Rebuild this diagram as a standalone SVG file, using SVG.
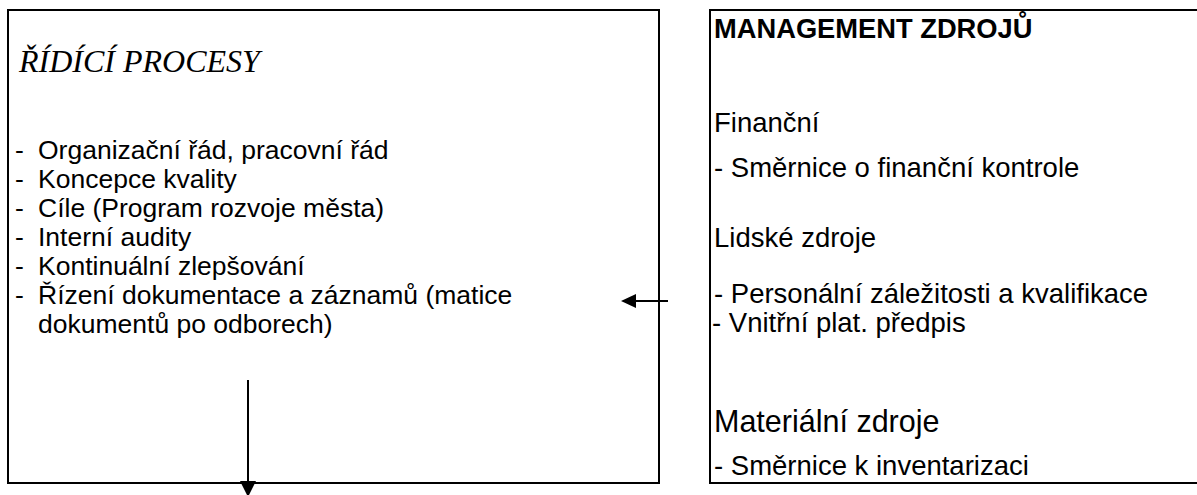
<svg xmlns="http://www.w3.org/2000/svg" width="1197" height="495" viewBox="0 0 1197 495">
<style>
.box{fill:#fff;stroke:#000;stroke-width:2}
.t{font-family:"Liberation Sans",Arial,sans-serif;font-size:26.5px;fill:#000}
.r{font-family:"Liberation Sans",Arial,sans-serif;font-size:27.5px;fill:#000}
.big{font-size:30.5px}
.title{font-family:"Liberation Serif","Times New Roman",serif;font-style:italic;font-size:32px;fill:#000}
.head{font-family:"Liberation Sans",Arial,sans-serif;font-weight:bold;font-size:27.3px;fill:#000}
.c{stroke:#000;stroke-width:2;fill:none}
</style>
<rect width="1197" height="495" fill="#fff"/>
<g id="ridici-procesy">
<rect class="box" x="8" y="10" width="651" height="473"/>
<text class="title" x="19" y="72">ŘÍDÍCÍ PROCESY</text>
<text class="t" x="15" y="159">-</text><text class="t" x="38" y="159">Organizační řád, pracovní řád</text>
<text class="t" x="15" y="188">-</text><text class="t" x="38" y="188">Koncepce kvality</text>
<text class="t" x="15" y="217">-</text><text class="t" x="38" y="217">Cíle (Program rozvoje města)</text>
<text class="t" x="15" y="246">-</text><text class="t" x="38" y="246">Interní audity</text>
<text class="t" x="15" y="275">-</text><text class="t" x="38" y="275">Kontinuální zlepšování</text>
<text class="t" x="15" y="304">-</text><text class="t" x="38" y="304">Řízení dokumentace a záznamů (matice</text>
<text class="t" x="38" y="333">dokumentů po odborech)</text>
</g>
<g id="management-zdroju">
<rect class="box" x="710" y="10" width="500" height="473"/>
<text class="head" x="714" y="38">MANAGEMENT ZDROJŮ</text>
<text class="r" x="714" y="132">Finanční</text>
<text class="r" x="714" y="177">-  Směrnice o finanční kontrole</text>
<text class="r" x="714" y="247">Lidské zdroje</text>
<text class="r" x="714" y="303">-  Personální záležitosti a kvalifikace</text>
<text class="r" x="712" y="332">- Vnitřní plat. předpis</text>
<text class="r big" x="714" y="432">Materiální zdroje</text>
<text class="r" x="714" y="475">-  Směrnice k  inventarizaci</text>
</g>
<g id="connectors">
<path class="c" d="M668,301H634"/>
<path d="M621,301L636,294L636,308Z" fill="#000"/>
<path class="c" d="M248,380V482"/>
<path d="M248,497L240,481L256,481Z" fill="#000"/>
</g>
</svg>
